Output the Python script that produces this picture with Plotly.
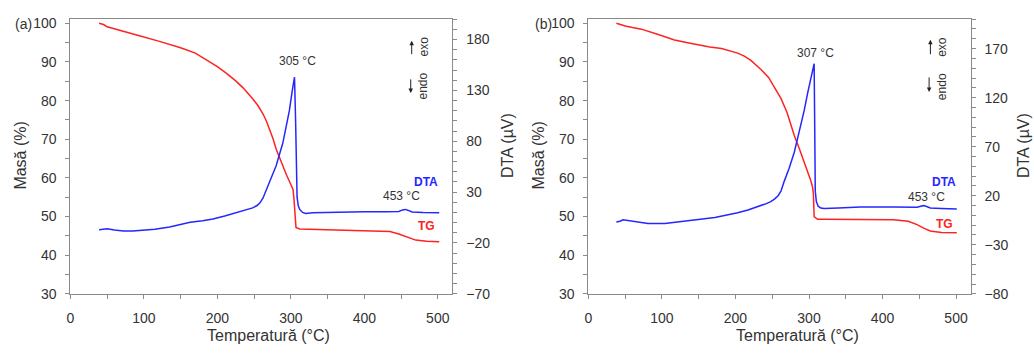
import plotly.graph_objects as go

W, H = 1034, 354

# ---------------- data: panel (a) ----------------
T_tg_a = [39, 45, 50, 60, 75, 95, 120, 150, 170, 185, 200, 212, 225, 235, 242, 248, 255, 262, 267,
          272, 276, 280, 287, 294, 300, 303, 304.5, 306, 307, 312, 330, 370, 415, 435, 447, 458, 470,
          485, 502]
TG_a = [100, 99.7, 99.1, 98.6, 97.8, 96.7, 95.4, 93.7, 92.3, 90.5, 88.8, 87.1, 85.1, 83.3, 81.9, 80.5,
        78.8, 76.6, 74.6, 72.3, 70.0, 67.5, 64.0, 60.8, 58.3, 57.0, 54.0, 49.0, 47.2, 46.8, 46.7, 46.6,
        46.4, 46.1, 45.5, 44.7, 43.9, 43.6, 43.5]

T_dta_a = [39, 45, 50, 60, 72, 85, 99, 115, 135, 150, 163, 180, 194, 210, 226, 240, 248, 254, 258,
           262, 266, 272, 280, 289, 298, 302, 305, 306.5, 307.5, 308.5, 310, 312, 316, 320, 330, 350,
           370, 400, 430, 447, 452, 456, 460, 465, 480, 502]
DTA_a = [-7, -6.5, -6, -7.3, -8.2, -8.2, -7.6, -6.5, -4.4, -2, 0.3, 1.8, 3.5, 6.5, 9.8, 12.5, 14.5,
         16.8, 19.5, 24, 31, 42, 56, 78, 110, 130, 143, 100, 45, 25, 17, 13, 10, 9, 9.6, 10, 10.8,
         10.8, 10.8, 11, 12.5, 13, 12, 10.5, 10, 9.8]

# ---------------- data: panel (b) ----------------
T_tg_b = [38, 44, 50, 60, 72, 95, 117, 135, 149, 165, 181, 195, 203, 212, 221, 235, 245, 255, 262,
          270, 280, 287, 293.5, 298, 302.6, 305, 306, 307, 311.6, 320, 360, 415, 435, 447, 456, 465,
          480, 501]
TG_b = [100, 99.6, 99.3, 98.9, 98.5, 97.1, 95.7, 95.0, 94.4, 93.9, 93.5, 92.8, 92.3, 91.5, 90.4, 88.0,
        86.0, 82.8, 80.5, 77.0, 71.0, 67.5, 64.2, 61.5, 59.2, 57.5, 55.8, 50.0, 49.3, 49.3, 49.3, 49.2,
        48.8, 47.9, 47.0, 46.25, 45.9, 45.8]

T_dta_b = [38, 43, 47, 52, 59, 70, 81, 104, 120, 135, 155, 172, 190, 203, 217, 230, 242, 248, 253,
           258, 262, 266.4, 273, 280, 287, 293.5, 298, 302.6, 305, 307, 307.8, 308.5, 310, 312.5, 316,
           320.6, 340, 370, 415, 447, 452, 456, 460, 465, 480, 501]
DTA_b = [-6.8, -6, -4.5, -5, -6.1, -7.5, -8.4, -8.4, -7.2, -5.5, -3.8, -2.2, 0.3, 2.7, 5.5, 8.6, 12,
         14, 16.5, 20, 25, 34.9, 48, 64.4, 85, 107, 124, 140, 150, 154.6, 90, 25, 14, 9.3, 7.5, 6.9,
         7.5, 8.6, 8.6, 8.3, 9.2, 9.9, 9, 7.6, 7, 6.4]

peak_labels = ["305 °C", "307 °C"]
small_peak_label = "453 °C"
panel_labels = ["(a)", "(b)"]
x_title = "Temperatură (°C)"
y_title = "Masă (%)"
y2_title = "DTA (µV)"

RED = "#ff2222"
BLUE = "#2626ff"
FONT = "Arial, Liberation Sans, sans-serif"
TXT = "#333333"
AX = "#8a8a8a"

fig = go.Figure()
fig.add_trace(go.Scatter(x=T_tg_a, y=TG_a, mode="lines", line=dict(color=RED, width=1.5),
                         xaxis="x", yaxis="y", showlegend=False))
fig.add_trace(go.Scatter(x=T_dta_a, y=DTA_a, mode="lines", line=dict(color=BLUE, width=1.5),
                         xaxis="x", yaxis="y2", showlegend=False))
fig.add_trace(go.Scatter(x=T_tg_b, y=TG_b, mode="lines", line=dict(color=RED, width=1.5),
                         xaxis="x2", yaxis="y3", showlegend=False))
fig.add_trace(go.Scatter(x=T_dta_b, y=DTA_b, mode="lines", line=dict(color=BLUE, width=1.5),
                         xaxis="x2", yaxis="y4", showlegend=False))

ydom = [1 - 300 / H, 1 - 15.7 / H]
xdom_a = [66.7 / W, 450.2 / W]
xdom_b = [586.7 / W, 970.5 / W]

tickfont = dict(family=FONT, size=14, color=TXT)
common = dict(showline=True, linecolor=AX, linewidth=1, ticks="outside", ticklen=4, tickcolor=AX,
              tickfont=tickfont, showgrid=False, zeroline=False, fixedrange=True)
minor_x = dict(dtick=50, ticks="outside", ticklen=4, tickcolor=AX, showgrid=False)


def xax(dom, anchor):
    return dict(domain=dom, anchor=anchor, range=[0, 520], tick0=0, dtick=100, mirror=True,
                minor=minor_x, ticklabelstandoff=7, **common)


def yleft(anchor):
    return dict(domain=ydom, anchor=anchor, range=[30, 101.08], tick0=30, dtick=10,
                minor=dict(dtick=5, ticks="outside", ticklen=4, tickcolor=AX, showgrid=False),
                ticklabelstandoff=6, **common)


def yright(over, anchor, lo, hi):
    return dict(overlaying=over, anchor=anchor, side="right", range=[lo, hi], tick0=lo, dtick=50,
                minor=dict(dtick=10, ticks="outside", ticklen=4, tickcolor=AX, showgrid=False),
                ticklabelstandoff=6, **common)


fig.update_layout(
    width=W, height=H, margin=dict(l=0, r=0, t=0, b=0),
    paper_bgcolor="white", plot_bgcolor="white",
    xaxis=xax(xdom_a, "y"), yaxis=yleft("x"), yaxis2=yright("y", "x", -70, 200),
    xaxis2=xax(xdom_b, "y3"), yaxis3=yleft("x2"), yaxis4=yright("y3", "x2", -80, 200),
)


def P(px, py):
    return px / W, 1 - py / H


annots = []


def txt(text, px, py, size=12, color=TXT, angle=0, bold=False):
    x, y = P(px, py)
    annots.append(dict(text=("<b>%s</b>" % text) if bold else text, x=x, y=y, xref="paper",
                       yref="paper", xanchor="center", yanchor="middle", showarrow=False,
                       textangle=angle, font=dict(family=FONT, size=size, color=color)))


def arrow(px, py_tail, py_head):
    x, y = P(px, py_head)
    annots.append(dict(text="", x=x, y=y, xref="paper", yref="paper", ax=0, ay=py_tail - py_head,
                       axref="pixel", ayref="pixel", showarrow=True, arrowhead=2, arrowsize=0.9,
                       arrowwidth=1, arrowcolor="#222222"))


# panel (a)
txt(panel_labels[0], 20, 21, size=14)
txt(peak_labels[0], 295, 59.3)
txt(small_peak_label, 399.3, 198.3)
txt("DTA", 423.3, 184, color=BLUE, bold=True)
txt("TG", 424, 230, color=RED, bold=True)
txt("exo", 421.5, 44, angle=-90)
txt("endo", 421, 85, angle=-90)
arrow(409.3, 53, 38)
arrow(408.3, 77, 92)
txt(y_title, 17, 157, size=16, angle=-90)
txt(y2_title, 505, 147, size=16, angle=-90)
txt(x_title, 266, 343, size=16)

# panel (b)
txt(panel_labels[1], 541.5, 21, size=14)
txt(peak_labels[1], 815, 50.7)
txt(small_peak_label, 926, 200)
txt("DTA", 943.3, 184, color=BLUE, bold=True)
txt("TG", 944, 227.3, color=RED, bold=True)
txt("exo", 941, 44, angle=-90)
txt("endo", 941.7, 86, angle=-90)
arrow(930, 53, 37)
arrow(928.7, 75, 91)
txt(y_title, 537, 157, size=16, angle=-90)
txt(y2_title, 1023, 147, size=16, angle=-90)
txt(x_title, 797, 343, size=16)

fig.update_layout(annotations=annots)
fig.write_html("out.html")
